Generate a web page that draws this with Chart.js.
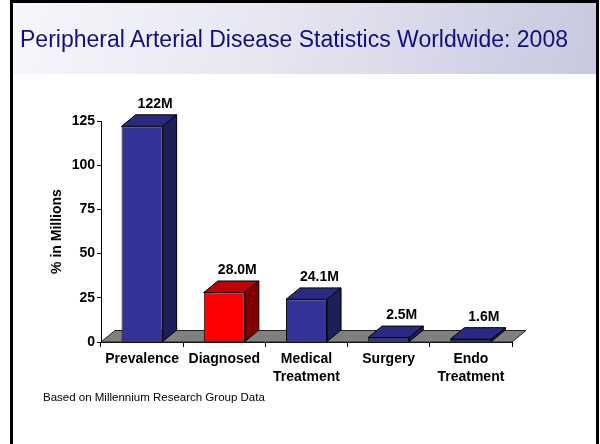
<!DOCTYPE html>
<html>
<head>
<meta charset="utf-8">
<script src="https://cdn.jsdelivr.net/npm/chart.js@4/dist/chart.umd.min.js"></script>
<style>
  html, body { margin: 0; padding: 0; background: #ffffff; }
  body { width: 600px; height: 444px; position: relative; overflow: hidden; font-family: "Liberation Sans", Arial, sans-serif; }
  #band { position: absolute; left: 13px; top: 3px; width: 584px; height: 71px;
          background: linear-gradient(100deg, #f6f6fb 0%, #e6e6f1 45%, #c8c8e0 100%); }
  #chartWrap { position: absolute; left: 0; top: 0; width: 600px; height: 444px; }
  #title { position: absolute; left: 20px; top: 28px; font-size: 23px; line-height: 23px; color: #10107a; white-space: nowrap; }
  #note { position: absolute; left: 43px; top: 391.5px; font-size: 11.5px; line-height: 11.5px; color: #000; white-space: nowrap; }
  #frame { position: absolute; left: 10px; top: 0px; width: 589px; height: 470px; box-sizing: border-box; border: 3px solid #000; pointer-events: none; }
</style>
</head>
<body>
<div id="band"></div>
<div id="chartWrap"><canvas id="c" width="600" height="444"></canvas></div>
<div id="title">Peripheral Arterial Disease Statistics Worldwide: 2008</div>
<div id="note">Based on Millennium Research Group Data</div>
<div id="frame"></div>
<script>
// ---- data ----
const categories = [["Prevalence"], ["Diagnosed"], ["Medical", "Treatment"], ["Surgery"], ["Endo", "Treatment"]];
const values = [122, 28.0, 24.1, 2.5, 1.6];
const valueLabels = ["122M", "28.0M", "24.1M", "2.5M", "1.6M"];
const yAxisTitle = "% in Millions";
const yMin = 0, yMax = 125, yStep = 25;

// ---- styles ----
const frontColors = ["#333399", "#ff0000", "#333399", "#333399", "#333399"];
const topColors   = ["#2a2a82", "#c00000", "#2a2a82", "#2a2a82", "#2a2a82"];
const sideColors  = ["#1e1e58", "#800000", "#1e1e58", "#1e1e58", "#1e1e58"];
const DX = 14, DY = 11.5;
const FONT = '"Liberation Sans", Arial, sans-serif';

const bar3d = {
  id: 'bar3d',
  beforeDatasetsDraw(chart) {
    const ctx = chart.ctx;
    const ys = chart.scales.y;
    const ca = chart.chartArea;
    const y0 = ys.getPixelForValue(0);
    ctx.save();
    ctx.beginPath();
    ctx.moveTo(ca.left, y0);
    ctx.lineTo(ca.right, y0);
    ctx.lineTo(ca.right + DX, y0 - DY);
    ctx.lineTo(ca.left + DX, y0 - DY);
    ctx.closePath();
    ctx.fillStyle = '#808080';
    ctx.fill();
    ctx.lineWidth = 1;
    ctx.strokeStyle = '#222';
    ctx.stroke();
    ctx.restore();
  },
  afterDatasetsDraw(chart) {
    const ctx = chart.ctx;
    const meta = chart.getDatasetMeta(0);
    ctx.save();
    ctx.lineWidth = 1;
    ctx.strokeStyle = '#000';
    ctx.lineJoin = 'miter';
    meta.data.forEach((bar, i) => {
      const p = bar.getProps(['x', 'y', 'base', 'width'], true);
      const l = p.x - p.width / 2, r = p.x + p.width / 2;
      // top face
      ctx.beginPath();
      ctx.moveTo(l, p.y);
      ctx.lineTo(r, p.y);
      ctx.lineTo(r + DX, p.y - DY);
      ctx.lineTo(l + DX, p.y - DY);
      ctx.closePath();
      ctx.fillStyle = topColors[i];
      ctx.fill();
      ctx.stroke();
      // side face
      ctx.beginPath();
      ctx.moveTo(r, p.y);
      ctx.lineTo(r + DX, p.y - DY);
      ctx.lineTo(r + DX, p.base - DY);
      ctx.lineTo(r, p.base);
      ctx.closePath();
      ctx.fillStyle = sideColors[i];
      ctx.fill();
      ctx.stroke();
      // value label
      ctx.fillStyle = '#000';
      ctx.font = 'bold 14px ' + FONT;
      ctx.textAlign = 'center';
      ctx.textBaseline = 'middle';
      ctx.fillText(valueLabels[i], p.x + 13, p.y - 22);
    });
    ctx.restore();
  }
};

Chart.defaults.font.family = FONT;
new Chart(document.getElementById('c'), {
  type: 'bar',
  data: {
    labels: categories,
    datasets: [{
      data: values,
      backgroundColor: frontColors,
      borderColor: '#000',
      borderWidth: 1,
      borderSkipped: false,
      categoryPercentage: 1.0,
      barPercentage: 0.5
    }]
  },
  options: {
    responsive: false,
    devicePixelRatio: 1,
    animation: false,
    layout: { padding: { left: 0, top: 121, right: 88, bottom: 0 } },
    plugins: { legend: { display: false }, tooltip: { enabled: false }, title: { display: false } },
    scales: {
      x: {
        offset: true,
        grid: { display: true, drawOnChartArea: false, drawTicks: true, tickLength: 5, color: '#000', offset: true },
        border: { display: true, color: '#000' },
        ticks: { color: '#000', font: { size: 14, weight: 'bold', lineHeight: 1.3 }, padding: 3, maxRotation: 0, autoSkip: false },
        afterFit(s) { s.height = 102; }
      },
      y: {
        min: yMin, max: yMax,
        grid: { display: true, drawOnChartArea: false, drawTicks: true, tickLength: 4, color: '#000' },
        border: { display: true, color: '#000' },
        ticks: { stepSize: yStep, color: '#000', font: { size: 14, weight: 'bold' }, padding: 2 },
        title: { display: true, text: yAxisTitle, color: '#000', font: { size: 14, weight: 'bold' }, padding: { top: 49, bottom: 0 } },
        afterFit(s) { s.width = 101; }
      }
    }
  },
  plugins: [bar3d]
});
</script>
</body>
</html>
